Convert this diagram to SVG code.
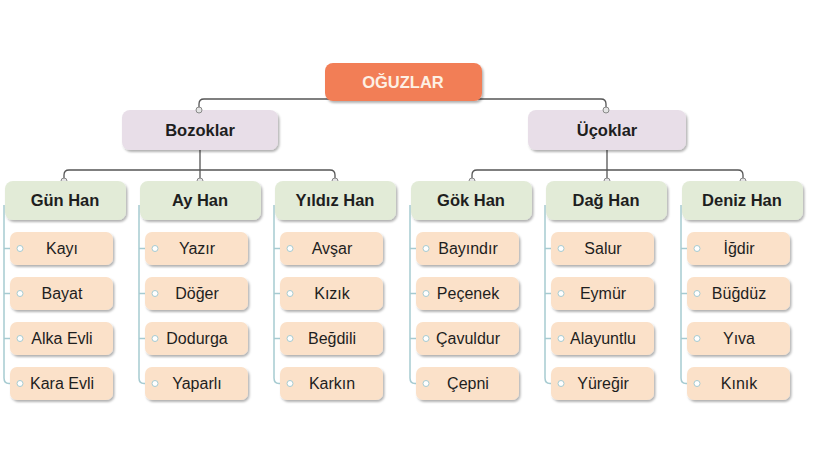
<svg xmlns="http://www.w3.org/2000/svg" width="820" height="461" viewBox="0 0 820 461">
<defs>
<filter id="sh" x="-10%" y="-20%" width="130%" height="160%">
<feDropShadow dx="1.5" dy="2" stdDeviation="1.3" flood-color="#000" flood-opacity="0.3"/>
</filter>
<style>
.top{fill:#f27e56;filter:url(#sh)}
.grp{fill:#e8dee8;filter:url(#sh)}
.han{fill:#e2ebd7;filter:url(#sh)}
.kid{fill:#fbe1c9;filter:url(#sh)}
.t{font-family:"Liberation Sans",Arial,sans-serif;text-anchor:middle;fill:#1e1e1e}
.b{font-weight:bold;font-size:16.5px}
.r{font-size:16px}
.dk{fill:none;stroke:#555;stroke-width:1.3}
.tl{fill:none;stroke:#a6cbd1;stroke-width:1.5}
.dc{fill:#e4e4e4;stroke:#888;stroke-width:1}
.tc{fill:#fff;stroke:#a6cbd1;stroke-width:1}
</style>
</defs>
<rect width="820" height="461" fill="#fff"/>
<g id="connectors">
<path class="dk" d="M199,110 V104 Q199,99 204,99 H601 Q606,99 606,104 V110"/>
<path class="dk" d="M200,150 V181 M64,181 V175 Q64,170 69,170 H330 Q335,170 335,175 V181"/>
<path class="dk" d="M607,150 V181 M472,181 V175 Q472,170 477,170 H738 Q743,170 743,175 V181"/>
<g class="tl">
<path d="M4,205 V378 Q4,383.5 9,383.5 H20 M4,248.5 H20 M4,293.5 H20 M4,338.5 H20"/>
<path d="M139,205 V378 Q139,383.5 144,383.5 H155 M139,248.5 H155 M139,293.5 H155 M139,338.5 H155"/>
<path d="M274,205 V378 Q274,383.5 279,383.5 H290 M274,248.5 H290 M274,293.5 H290 M274,338.5 H290"/>
<path d="M410,205 V378 Q410,383.5 415,383.5 H426 M410,248.5 H426 M410,293.5 H426 M410,338.5 H426"/>
<path d="M545,205 V378 Q545,383.5 550,383.5 H561 M545,248.5 H561 M545,293.5 H561 M545,338.5 H561"/>
<path d="M681,205 V378 Q681,383.5 686,383.5 H697 M681,248.5 H697 M681,293.5 H697 M681,338.5 H697"/>
</g>
</g>
<g id="oguzlar"><rect class="top" x="325" y="63" width="157" height="38" rx="8"/><text class="t b" x="403" y="88" style="fill:#fdf0e4">OĞUZLAR</text></g>
<g id="bozoklar"><rect class="grp" x="122" y="110" width="156" height="40" rx="8"/><text class="t b" x="200" y="136">Bozoklar</text></g>
<g id="ucoklar"><rect class="grp" x="528" y="110" width="158" height="40" rx="8"/><text class="t b" x="607" y="136">Üçoklar</text></g>
<g id="top-dots">
<circle class="dc" cx="199" cy="110" r="3"/><circle class="dc" cx="606" cy="110" r="3"/>
<circle class="dc" cx="64" cy="181" r="3"/><circle class="dc" cx="200" cy="181" r="3"/><circle class="dc" cx="335" cy="181" r="3"/>
<circle class="dc" cx="472" cy="181" r="3"/><circle class="dc" cx="607" cy="181" r="3"/><circle class="dc" cx="743" cy="181" r="3"/>
</g>
<g id="gun-han"><rect class="han" x="5" y="181" width="121" height="39" rx="8"/><text class="t b" x="65" y="206">Gün Han</text></g>
<g id="ay-han"><rect class="han" x="140" y="181" width="121" height="39" rx="8"/><text class="t b" x="200" y="206">Ay Han</text></g>
<g id="yildiz-han"><rect class="han" x="275" y="181" width="121" height="39" rx="8"/><text class="t b" x="335" y="206">Yıldız Han</text></g>
<g id="gok-han"><rect class="han" x="411" y="181" width="121" height="39" rx="8"/><text class="t b" x="471" y="206">Gök Han</text></g>
<g id="dag-han"><rect class="han" x="546" y="181" width="121" height="39" rx="8"/><text class="t b" x="606" y="206">Dağ Han</text></g>
<g id="deniz-han"><rect class="han" x="682" y="181" width="121" height="39" rx="8"/><text class="t b" x="742" y="206">Deniz Han</text></g>

<g id="kayi"><rect class="kid" x="10" y="232" width="103" height="33" rx="7"/><text class="t r" x="62" y="254">Kayı</text></g>
<g id="bayat"><rect class="kid" x="10" y="277" width="103" height="33" rx="7"/><text class="t r" x="62" y="299">Bayat</text></g>
<g id="alka-evli"><rect class="kid" x="10" y="322" width="103" height="33" rx="7"/><text class="t r" x="62" y="344">Alka Evli</text></g>
<g id="kara-evli"><rect class="kid" x="10" y="367" width="103" height="33" rx="7"/><text class="t r" x="62" y="389">Kara Evli</text></g>

<g id="yazir"><rect class="kid" x="145" y="232" width="103" height="33" rx="7"/><text class="t r" x="197" y="254">Yazır</text></g>
<g id="doger"><rect class="kid" x="145" y="277" width="103" height="33" rx="7"/><text class="t r" x="197" y="299">Döğer</text></g>
<g id="dodurga"><rect class="kid" x="145" y="322" width="103" height="33" rx="7"/><text class="t r" x="197" y="344">Dodurga</text></g>
<g id="yaparli"><rect class="kid" x="145" y="367" width="103" height="33" rx="7"/><text class="t r" x="197" y="389">Yaparlı</text></g>

<g id="avsar"><rect class="kid" x="280" y="232" width="103" height="33" rx="7"/><text class="t r" x="332" y="254">Avşar</text></g>
<g id="kizik"><rect class="kid" x="280" y="277" width="103" height="33" rx="7"/><text class="t r" x="332" y="299">Kızık</text></g>
<g id="begdili"><rect class="kid" x="280" y="322" width="103" height="33" rx="7"/><text class="t r" x="332" y="344">Beğdili</text></g>
<g id="karkin"><rect class="kid" x="280" y="367" width="103" height="33" rx="7"/><text class="t r" x="332" y="389">Karkın</text></g>

<g id="bayindir"><rect class="kid" x="416" y="232" width="103" height="33" rx="7"/><text class="t r" x="468" y="254">Bayındır</text></g>
<g id="pecenek"><rect class="kid" x="416" y="277" width="103" height="33" rx="7"/><text class="t r" x="468" y="299">Peçenek</text></g>
<g id="cavuldur"><rect class="kid" x="416" y="322" width="103" height="33" rx="7"/><text class="t r" x="468" y="344">Çavuldur</text></g>
<g id="cepni"><rect class="kid" x="416" y="367" width="103" height="33" rx="7"/><text class="t r" x="468" y="389">Çepni</text></g>

<g id="salur"><rect class="kid" x="551" y="232" width="103" height="33" rx="7"/><text class="t r" x="603" y="254">Salur</text></g>
<g id="eymur"><rect class="kid" x="551" y="277" width="103" height="33" rx="7"/><text class="t r" x="603" y="299">Eymür</text></g>
<g id="alayuntlu"><rect class="kid" x="551" y="322" width="103" height="33" rx="7"/><text class="t r" x="603" y="344">Alayuntlu</text></g>
<g id="yuregir"><rect class="kid" x="551" y="367" width="103" height="33" rx="7"/><text class="t r" x="603" y="389">Yüreğir</text></g>

<g id="igdir"><rect class="kid" x="687" y="232" width="103" height="33" rx="7"/><text class="t r" x="739" y="254">İğdir</text></g>
<g id="bugduz"><rect class="kid" x="687" y="277" width="103" height="33" rx="7"/><text class="t r" x="739" y="299">Büğdüz</text></g>
<g id="yiva"><rect class="kid" x="687" y="322" width="103" height="33" rx="7"/><text class="t r" x="739" y="344">Yıva</text></g>
<g id="kinik"><rect class="kid" x="687" y="367" width="103" height="33" rx="7"/><text class="t r" x="739" y="389">Kınık</text></g>

<g id="tree-dots">
<circle class="tc" cx="20" cy="248.5" r="3"/><circle class="tc" cx="20" cy="293.5" r="3"/><circle class="tc" cx="20" cy="338.5" r="3"/><circle class="tc" cx="20" cy="383.5" r="3"/>
<circle class="tc" cx="155" cy="248.5" r="3"/><circle class="tc" cx="155" cy="293.5" r="3"/><circle class="tc" cx="155" cy="338.5" r="3"/><circle class="tc" cx="155" cy="383.5" r="3"/>
<circle class="tc" cx="290" cy="248.5" r="3"/><circle class="tc" cx="290" cy="293.5" r="3"/><circle class="tc" cx="290" cy="338.5" r="3"/><circle class="tc" cx="290" cy="383.5" r="3"/>
<circle class="tc" cx="426" cy="248.5" r="3"/><circle class="tc" cx="426" cy="293.5" r="3"/><circle class="tc" cx="426" cy="338.5" r="3"/><circle class="tc" cx="426" cy="383.5" r="3"/>
<circle class="tc" cx="561" cy="248.5" r="3"/><circle class="tc" cx="561" cy="293.5" r="3"/><circle class="tc" cx="561" cy="338.5" r="3"/><circle class="tc" cx="561" cy="383.5" r="3"/>
<circle class="tc" cx="697" cy="248.5" r="3"/><circle class="tc" cx="697" cy="293.5" r="3"/><circle class="tc" cx="697" cy="338.5" r="3"/><circle class="tc" cx="697" cy="383.5" r="3"/>
</g>
</svg>
